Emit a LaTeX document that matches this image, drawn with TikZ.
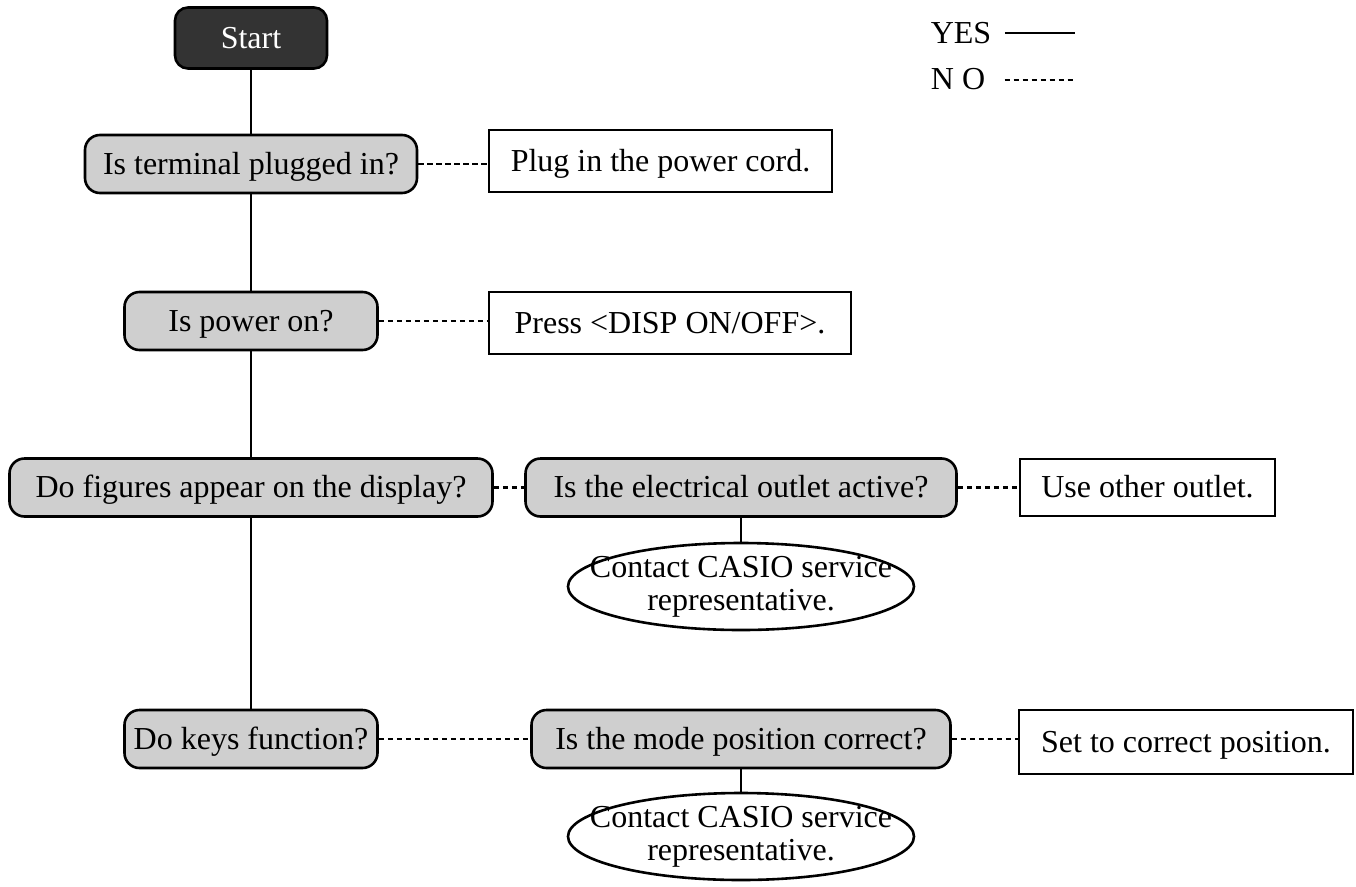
\documentclass[tikz,border=0pt]{standalone}
\usepackage{fontspec}
\setmainfont{Liberation Serif}
\usetikzlibrary{positioning, shapes.geometric}
\definecolor{qgray}{gray}{0.81}
\definecolor{startgray}{gray}{0.2}

\begin{document}
\begin{tikzpicture}[
    x=1pt, y=-1pt,
    font=\fontsize{32}{33}\selectfont,
    startbox/.style={
        draw, fill=startgray, text=white, rounded corners=13pt,
        line width=2.6pt, inner sep=0pt,
        text height=22pt, text depth=1.5pt,
        minimum width=152pt, minimum height=61pt
    },
    ask/.style={
        draw, fill=qgray, rounded corners=15pt,
        line width=2.6pt, inner sep=0pt,
        text height=22pt, text depth=1.5pt,
        minimum height=58pt, text centered
    },
    todo/.style={
        draw, line width=2.6pt, inner sep=0pt,
        text height=22pt, text depth=1.5pt,
        minimum height=62pt, text centered
    },
    contact/.style={
        ellipse, draw, line width=2.6pt, inner sep=0pt,
        minimum width=346pt, minimum height=87pt
    },
    yes/.style={line width=2.4pt},
    no/.style={line width=2.4pt, dash pattern=on 5.5pt off 3.5pt},
]
\useasboundingbox (0,0) rectangle (1356,886);

% Main column (x = 251)
\node[startbox] (start) at (251, 38) {Start};
\node[ask, minimum width=332pt] (plugged) at (251, 164) {Is terminal plugged in?};
\node[ask, minimum width=253pt] (power) at (251, 321) {Is power on?};
\node[ask, minimum width=483pt] (figures) at (251, 487.5) {Do figures appear on the display?};
\node[ask, minimum width=253pt] (keys) at (251, 739) {Do keys function?};

% Middle column (x = 741)
\node[ask, minimum width=431pt] (outlet) at (741, 487.5) {Is the electrical outlet active?};
\node[contact, label={[align=center]center:Contact CASIO service\\representative.}] (contact1) at (741, 586.5) {};
\node[ask, minimum width=419pt] (mode) at (741, 739) {Is the mode position correct?};
\node[contact, label={[align=center]center:Contact CASIO service\\representative.}] (contact2) at (741, 836.5) {};

% Remedies
\node[todo, minimum width=343pt] (plugin) at (660.5, 161) {Plug in the power cord.};
\node[todo, minimum width=362pt] (press) at (670, 323) {Press <DISP ON/OFF>.};
\node[todo, minimum width=255pt, minimum height=57pt] (other) at (1147.5, 487.5) {Use other outlet.};
\node[todo, minimum width=334pt, minimum height=64pt] (setpos) at (1186, 742) {Set to correct position.};

% Legend
\node (yeslbl) at (961, 33) {YES};
\node (nolbl) at (958, 79) {N O};
\coordinate (yesend) at (1075, 33);
\coordinate (noend) at (1073, 80);

% YES paths
\draw[yes] (start) -- (plugged);
\draw[yes] (plugged) -- (power);
\draw[yes] (power) -- (figures);
\draw[yes] (figures) -- (keys);
\draw[yes] (outlet) -- (contact1);
\draw[yes] (mode) -- (contact2);

% NO paths
\draw[no] (plugged.east) -- (plugged.east -| plugin.west);
\draw[no] (power.east) -- (power.east -| press.west);
\draw[no] (figures) -- (outlet);
\draw[no] (outlet) -- (other);
\draw[no] (keys) -- (mode);
\draw[no] (mode.east) -- (mode.east -| setpos.west);

% Legend lines
\draw[yes] (yesend -| yeslbl.east) ++(10,0) -- (yesend);
\draw[no] (noend -| nolbl.east) ++(16,0) -- (noend);

\end{tikzpicture}
\end{document}
